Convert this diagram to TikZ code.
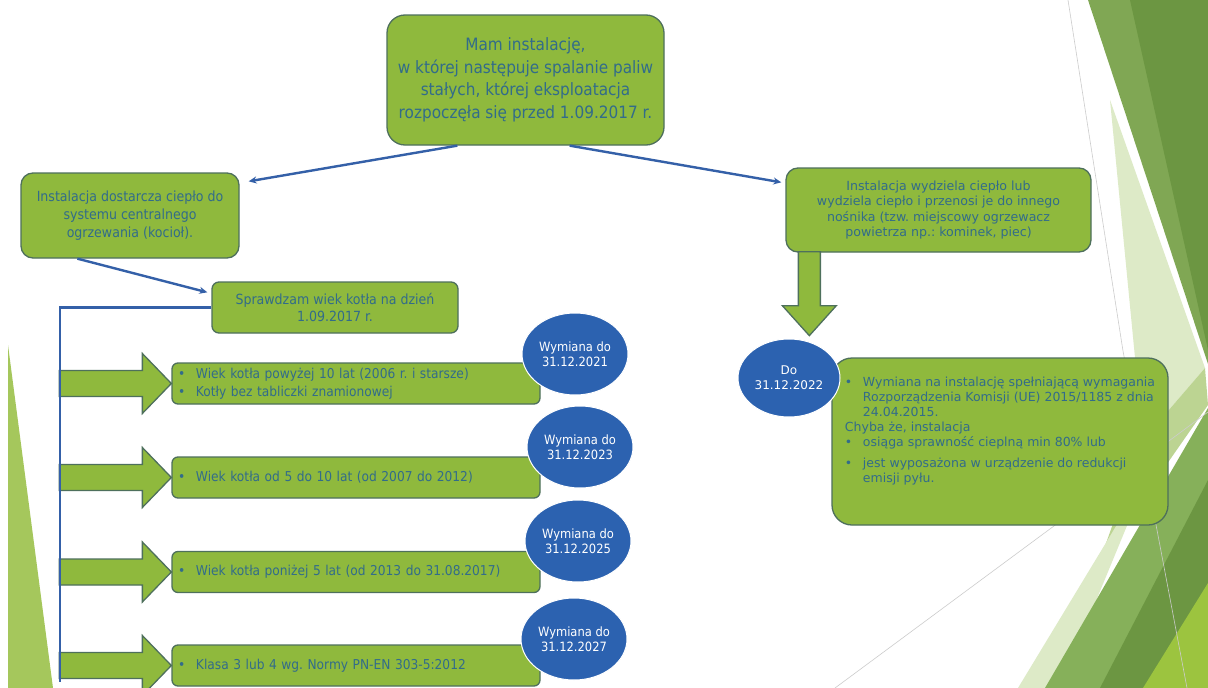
\documentclass[tikz,border=0pt]{standalone}
\usepackage{fontspec}
\setmainfont{DejaVu Sans}
\newfontfamily\condfont{DejaVu Sans Condensed}
\usetikzlibrary{shapes.geometric,arrows.meta}
\frenchspacing

\definecolor{boxgreen}{RGB}{143,185,61}
\definecolor{boxedge}{RGB}{78,112,92}
\definecolor{txtblue}{RGB}{50,108,138}
\definecolor{ovalblue}{RGB}{44,98,176}
\definecolor{linkblue}{RGB}{52,96,168}
\definecolor{darkleaf}{RGB}{108,150,66}
\definecolor{midleaf}{RGB}{128,167,84}
\definecolor{paleleaf}{RGB}{221,234,199}
\definecolor{softleaf}{RGB}{188,212,146}
\definecolor{lowleaf}{RGB}{134,176,90}
\definecolor{brightleaf}{RGB}{156,196,63}
\definecolor{leftleaf}{RGB}{165,199,92}

\newcommand{\bul}{\makebox[18pt][l]{\textbullet}}

\tikzset{
  greenbox/.style={draw=boxedge, fill=boxgreen, line width=1.3pt, rounded corners=12pt, text=txtblue, align=center, inner sep=0pt},
  itembox/.style={greenbox, rounded corners=6pt, minimum width=368pt, minimum height=41pt, text width=356pt, align=left, font=\condfont\fontsize{13.6}{17.5}\selectfont},
  datebox/.style={ellipse, draw=white, line width=1pt, fill=ovalblue, text=white, align=center, inner sep=0pt, minimum width=106pt, minimum height=82pt, font=\condfont\fontsize{12.8}{15.5}\selectfont},
  link/.style={draw=linkblue, line width=2.4pt, -{Stealth[length=8pt,width=7pt]}},
  fat/.style={draw=boxedge, fill=boxgreen, line width=1.3pt, line join=miter},
  leaf/.style={draw=none},
}

\begin{document}
\begin{tikzpicture}[x=1pt, y=-1pt]
        \useasboundingbox (0, 0) rectangle (1208, 688);
        \fill[white] (0, 0) rectangle (1208, 688);

        \fill[leaf, midleaf] (1088, 0) -- (1208, 0) -- (1208, 364) -- cycle;
        \fill[leaf, darkleaf] (1130, 0) -- (1208, 0) -- (1208, 350) -- cycle;
        \fill[leaf, paleleaf] (1110, 100) -- (1205, 368) -- (1143, 440) -- cycle;
        \fill[leaf, softleaf] (1143, 440) -- (1205, 368) -- (1208, 405) -- (1100, 560) -- cycle;
        \fill[leaf, paleleaf] (1018, 688) -- (1150, 470) -- (1060, 688) -- cycle;
        \fill[leaf, lowleaf] (1045, 688) -- (1208, 408) -- (1208, 688) -- cycle;
        \fill[leaf, darkleaf] (1100, 688) -- (1208, 480) -- (1208, 688) -- cycle;
        \fill[leaf, brightleaf] (1143, 688) -- (1208, 583) -- (1208, 688) -- cycle;
        \fill[leaf, leftleaf] (8, 345) -- (53, 688) -- (8, 688) -- cycle;
        \draw[black!20, line width=0.6pt] (1068, 0) -- (1123, 351) -- (1187, 688);
        \draw[black!20, line width=0.6pt] (835, 688) -- (1208, 412);

        \node[greenbox, rounded corners=18pt, minimum width=277pt, minimum height=130pt, font=\condfont\fontsize{17}{22.5}\selectfont] at (525.5, 80) (top) {Mam instalację,\\ w której następuje spalanie paliw\\ stałych, której eksploatacja\\ rozpoczęła się przed 1.09.2017 r.};
        \node[greenbox, minimum width=218pt, minimum height=85pt, font=\condfont\fontsize{14}{18}\selectfont] at (130, 215.5) (heat) {Instalacja dostarcza ciepło do\\ systemu centralnego\\ ogrzewania (kocioł).};
        \node[greenbox, rounded corners=7pt, minimum width=246pt, minimum height=51pt, font=\condfont\fontsize{14}{17.5}\selectfont] at (335, 307.5) (check) {Sprawdzam wiek kotła na dzień\\ 1.09.2017 r.};
        \node[greenbox, minimum width=305pt, minimum height=84pt, font=\fontsize{12.6}{15.5}\selectfont] at (938.5, 210) (local) {Instalacja wydziela ciepło lub\\ wydziela ciepło i przenosi je do innego\\ nośnika (tzw. miejscowy ogrzewacz\\ powietrza np.: kominek, piec)};
        \node[greenbox, rounded corners=20pt, minimum width=336pt, minimum height=167pt, align=left, font=\fontsize{12.5}{15}\selectfont] at (1000, 441.5) (req) {\bul Wymiana na instalację spełniającą wymagania\\ \hspace*{18pt}Rozporządzenia Komisji (UE) 2015/1185 z dnia\\ \hspace*{18pt}24.04.2015.\\ Chyba że, instalacja\\ \bul osiąga sprawność cieplną min 80\% lub\\[6pt] \bul jest wyposażona w urządzenie do redukcji\\ \hspace*{18pt}emisji pyłu.\\[8pt] \mbox{}};

        \node[itembox] at (356, 383.5) (i1) {\bul Wiek kotła powyżej 10 lat (2006 r. i starsze)\\ \bul Kotły bez tabliczki znamionowej};
        \node[itembox] at (356, 477.5) (i2) {\bul Wiek kotła od 5 do 10 lat (od 2007 do 2012)};
        \node[itembox] at (356, 572) (i3) {\bul Wiek kotła poniżej 5 lat (od 2013 do 31.08.2017)};
        \node[itembox] at (356, 665.5) (i4) {\bul Klasa 3 lub 4 wg. Normy PN-EN 303-5:2012};

        \draw[link] ([xshift=71pt]top.south west) -- ([xshift=9pt, yshift=-9pt]heat.north east);
        \draw[link] ([xshift=-95pt]top.south east) -- ([xshift=-4pt, yshift=-15pt]local.north west);
        \draw[link] ([xshift=57pt]heat.south west) -- ([xshift=-4pt, yshift=-11pt]check.north west);

        \foreach \n in {i1, i2, i3, i4}
            \draw[fat, shift={(\n.west)}] (-112, -13) -- (-29, -13) -- (-29, -30) -- (0, 0) -- (-29, 30) -- (-29, 13) -- (-112, 13) -- cycle;
        \draw[fat, shift={([xshift=24pt]local.south west)}] (-11, -1) -- (11, -1) -- (11, 53) -- (27, 53) -- (0, 83) -- (-27, 53) -- (-11, 53) -- cycle;

        \coordinate (busend) at (60, 682);
        \draw[linkblue, line width=2.4pt] (check.west) -| (busend);

        \node[datebox] at (575, 354) (d1) {Wymiana do\\ 31.12.2021};
        \node[datebox] at (580, 447) (d2) {Wymiana do\\ 31.12.2023};
        \node[datebox] at (578, 541) (d3) {Wymiana do\\ 31.12.2025};
        \node[datebox] at (574, 639) (d4) {Wymiana do\\ 31.12.2027};
        \node[datebox, minimum width=102pt, minimum height=78pt, font=\fontsize{12}{15}\selectfont] at (789, 378) (due) {Do\\ 31.12.2022};
\end{tikzpicture}
\end{document}
